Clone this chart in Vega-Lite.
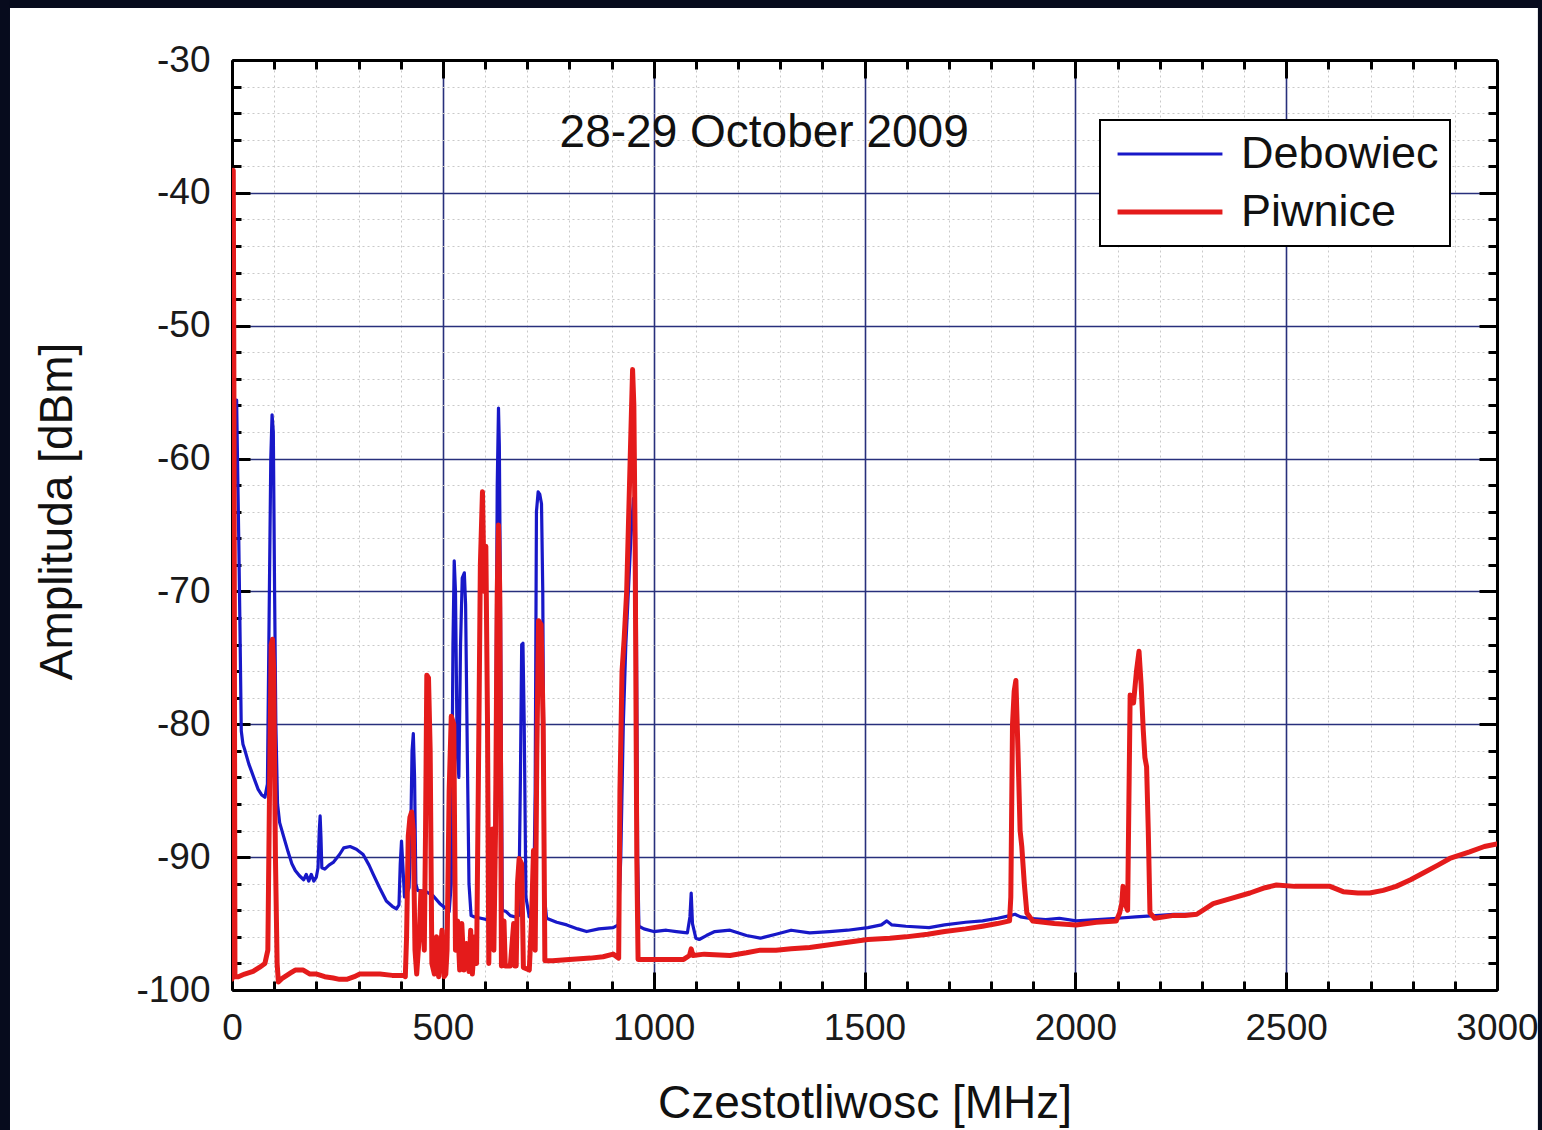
{
  "$schema": "https://vega.github.io/schema/vega-lite/v6.json",
  "width": 1265,
  "height": 930,
  "autosize": {"type": "none"},
  "padding": {"left": 232, "top": 60, "right": 45, "bottom": 140},
  "background": "white",
  "config": {"font": "Liberation Sans", "view": {"stroke": null}},
  "resolve": {"axis": {"x": "independent", "y": "independent"}},
  "layer": [
    {
      "data": {"values": [
        {"freq":0,"amp":-98,"station":"Debowiec"},{"freq":3,"amp":-70,"station":"Debowiec"},{"freq":8,"amp":-56.5,"station":"Debowiec"},{"freq":11,"amp":-55.6,"station":"Debowiec"},{"freq":13,"amp":-60,"station":"Debowiec"},{"freq":16,"amp":-66,"station":"Debowiec"},{"freq":19,"amp":-73,"station":"Debowiec"},{"freq":22,"amp":-80.5,"station":"Debowiec"},{"freq":26,"amp":-81.5,"station":"Debowiec"},{"freq":31,"amp":-82,"station":"Debowiec"},{"freq":40,"amp":-83,"station":"Debowiec"},{"freq":47,"amp":-83.6,"station":"Debowiec"},{"freq":55,"amp":-84.3,"station":"Debowiec"},{"freq":62,"amp":-84.9,"station":"Debowiec"},{"freq":70,"amp":-85.3,"station":"Debowiec"},{"freq":78,"amp":-85.5,"station":"Debowiec"},{"freq":84,"amp":-84.5,"station":"Debowiec"},{"freq":88,"amp":-72,"station":"Debowiec"},{"freq":92,"amp":-60,"station":"Debowiec"},{"freq":95,"amp":-56.7,"station":"Debowiec"},{"freq":98,"amp":-58,"station":"Debowiec"},{"freq":101,"amp":-70,"station":"Debowiec"},{"freq":104,"amp":-80,"station":"Debowiec"},{"freq":108,"amp":-86,"station":"Debowiec"},{"freq":113,"amp":-87.4,"station":"Debowiec"},{"freq":122,"amp":-88.4,"station":"Debowiec"},{"freq":133,"amp":-89.6,"station":"Debowiec"},{"freq":142,"amp":-90.5,"station":"Debowiec"},{"freq":150,"amp":-91,"station":"Debowiec"},{"freq":160,"amp":-91.4,"station":"Debowiec"},{"freq":170,"amp":-91.7,"station":"Debowiec"},{"freq":176,"amp":-91.3,"station":"Debowiec"},{"freq":182,"amp":-91.8,"station":"Debowiec"},{"freq":188,"amp":-91.3,"station":"Debowiec"},{"freq":194,"amp":-91.8,"station":"Debowiec"},{"freq":200,"amp":-91.5,"station":"Debowiec"},{"freq":204,"amp":-90.8,"station":"Debowiec"},{"freq":207,"amp":-88,"station":"Debowiec"},{"freq":209,"amp":-86.9,"station":"Debowiec"},{"freq":211,"amp":-88.5,"station":"Debowiec"},{"freq":213,"amp":-90.8,"station":"Debowiec"},{"freq":220,"amp":-90.9,"station":"Debowiec"},{"freq":230,"amp":-90.6,"station":"Debowiec"},{"freq":240,"amp":-90.4,"station":"Debowiec"},{"freq":255,"amp":-89.8,"station":"Debowiec"},{"freq":265,"amp":-89.3,"station":"Debowiec"},{"freq":280,"amp":-89.2,"station":"Debowiec"},{"freq":295,"amp":-89.4,"station":"Debowiec"},{"freq":311,"amp":-89.8,"station":"Debowiec"},{"freq":325,"amp":-90.6,"station":"Debowiec"},{"freq":335,"amp":-91.3,"station":"Debowiec"},{"freq":350,"amp":-92.3,"station":"Debowiec"},{"freq":366,"amp":-93.3,"station":"Debowiec"},{"freq":380,"amp":-93.7,"station":"Debowiec"},{"freq":390,"amp":-93.9,"station":"Debowiec"},{"freq":396,"amp":-93.6,"station":"Debowiec"},{"freq":399,"amp":-90.5,"station":"Debowiec"},{"freq":402,"amp":-88.8,"station":"Debowiec"},{"freq":405,"amp":-90.5,"station":"Debowiec"},{"freq":409,"amp":-93,"station":"Debowiec"},{"freq":414,"amp":-92.8,"station":"Debowiec"},{"freq":420,"amp":-92.3,"station":"Debowiec"},{"freq":424,"amp":-88,"station":"Debowiec"},{"freq":427,"amp":-82,"station":"Debowiec"},{"freq":430,"amp":-80.7,"station":"Debowiec"},{"freq":433,"amp":-84,"station":"Debowiec"},{"freq":436,"amp":-92,"station":"Debowiec"},{"freq":440,"amp":-92.5,"station":"Debowiec"},{"freq":460,"amp":-92.6,"station":"Debowiec"},{"freq":477,"amp":-92.9,"station":"Debowiec"},{"freq":493,"amp":-93.5,"station":"Debowiec"},{"freq":505,"amp":-93.8,"station":"Debowiec"},{"freq":515,"amp":-94.1,"station":"Debowiec"},{"freq":520,"amp":-92,"station":"Debowiec"},{"freq":524,"amp":-74,"station":"Debowiec"},{"freq":527,"amp":-67.7,"station":"Debowiec"},{"freq":530,"amp":-70,"station":"Debowiec"},{"freq":534,"amp":-82,"station":"Debowiec"},{"freq":538,"amp":-84,"station":"Debowiec"},{"freq":542,"amp":-74,"station":"Debowiec"},{"freq":546,"amp":-69,"station":"Debowiec"},{"freq":551,"amp":-68.6,"station":"Debowiec"},{"freq":554,"amp":-71,"station":"Debowiec"},{"freq":558,"amp":-82,"station":"Debowiec"},{"freq":562,"amp":-92,"station":"Debowiec"},{"freq":567,"amp":-94.4,"station":"Debowiec"},{"freq":575,"amp":-94.5,"station":"Debowiec"},{"freq":590,"amp":-94.6,"station":"Debowiec"},{"freq":605,"amp":-94.7,"station":"Debowiec"},{"freq":620,"amp":-94.6,"station":"Debowiec"},{"freq":625,"amp":-85,"station":"Debowiec"},{"freq":629,"amp":-62,"station":"Debowiec"},{"freq":632,"amp":-56.2,"station":"Debowiec"},{"freq":634,"amp":-59,"station":"Debowiec"},{"freq":637,"amp":-72,"station":"Debowiec"},{"freq":641,"amp":-94,"station":"Debowiec"},{"freq":650,"amp":-94.1,"station":"Debowiec"},{"freq":660,"amp":-94.4,"station":"Debowiec"},{"freq":672,"amp":-94.5,"station":"Debowiec"},{"freq":680,"amp":-94.4,"station":"Debowiec"},{"freq":684,"amp":-84,"station":"Debowiec"},{"freq":687,"amp":-74,"station":"Debowiec"},{"freq":690,"amp":-73.9,"station":"Debowiec"},{"freq":693,"amp":-80,"station":"Debowiec"},{"freq":697,"amp":-93,"station":"Debowiec"},{"freq":705,"amp":-94.5,"station":"Debowiec"},{"freq":715,"amp":-94.5,"station":"Debowiec"},{"freq":719,"amp":-85,"station":"Debowiec"},{"freq":722,"amp":-64,"station":"Debowiec"},{"freq":726,"amp":-62.5,"station":"Debowiec"},{"freq":730,"amp":-62.7,"station":"Debowiec"},{"freq":734,"amp":-63.4,"station":"Debowiec"},{"freq":737,"amp":-70,"station":"Debowiec"},{"freq":741,"amp":-93,"station":"Debowiec"},{"freq":746,"amp":-94.6,"station":"Debowiec"},{"freq":770,"amp":-94.9,"station":"Debowiec"},{"freq":794,"amp":-95.1,"station":"Debowiec"},{"freq":820,"amp":-95.4,"station":"Debowiec"},{"freq":841,"amp":-95.6,"station":"Debowiec"},{"freq":870,"amp":-95.4,"station":"Debowiec"},{"freq":904,"amp":-95.3,"station":"Debowiec"},{"freq":916,"amp":-95.1,"station":"Debowiec"},{"freq":922,"amp":-90,"station":"Debowiec"},{"freq":928,"amp":-80,"station":"Debowiec"},{"freq":934,"amp":-74,"station":"Debowiec"},{"freq":940,"amp":-70,"station":"Debowiec"},{"freq":946,"amp":-66,"station":"Debowiec"},{"freq":952,"amp":-63,"station":"Debowiec"},{"freq":956,"amp":-63.5,"station":"Debowiec"},{"freq":959,"amp":-72,"station":"Debowiec"},{"freq":962,"amp":-90,"station":"Debowiec"},{"freq":965,"amp":-95.2,"station":"Debowiec"},{"freq":977,"amp":-95.4,"station":"Debowiec"},{"freq":1000,"amp":-95.6,"station":"Debowiec"},{"freq":1030,"amp":-95.5,"station":"Debowiec"},{"freq":1054,"amp":-95.6,"station":"Debowiec"},{"freq":1080,"amp":-95.7,"station":"Debowiec"},{"freq":1086,"amp":-94.5,"station":"Debowiec"},{"freq":1089,"amp":-92.7,"station":"Debowiec"},{"freq":1092,"amp":-95,"station":"Debowiec"},{"freq":1100,"amp":-96.1,"station":"Debowiec"},{"freq":1108,"amp":-96.2,"station":"Debowiec"},{"freq":1125,"amp":-95.9,"station":"Debowiec"},{"freq":1145,"amp":-95.6,"station":"Debowiec"},{"freq":1181,"amp":-95.5,"station":"Debowiec"},{"freq":1220,"amp":-95.9,"station":"Debowiec"},{"freq":1253,"amp":-96.1,"station":"Debowiec"},{"freq":1290,"amp":-95.8,"station":"Debowiec"},{"freq":1326,"amp":-95.5,"station":"Debowiec"},{"freq":1370,"amp":-95.7,"station":"Debowiec"},{"freq":1417,"amp":-95.6,"station":"Debowiec"},{"freq":1460,"amp":-95.5,"station":"Debowiec"},{"freq":1508,"amp":-95.3,"station":"Debowiec"},{"freq":1540,"amp":-95.1,"station":"Debowiec"},{"freq":1553,"amp":-94.8,"station":"Debowiec"},{"freq":1565,"amp":-95.1,"station":"Debowiec"},{"freq":1598,"amp":-95.2,"station":"Debowiec"},{"freq":1653,"amp":-95.3,"station":"Debowiec"},{"freq":1690,"amp":-95.1,"station":"Debowiec"},{"freq":1740,"amp":-94.9,"station":"Debowiec"},{"freq":1780,"amp":-94.8,"station":"Debowiec"},{"freq":1816,"amp":-94.6,"station":"Debowiec"},{"freq":1845,"amp":-94.4,"station":"Debowiec"},{"freq":1857,"amp":-94.3,"station":"Debowiec"},{"freq":1870,"amp":-94.5,"station":"Debowiec"},{"freq":1889,"amp":-94.6,"station":"Debowiec"},{"freq":1930,"amp":-94.7,"station":"Debowiec"},{"freq":1962,"amp":-94.6,"station":"Debowiec"},{"freq":2002,"amp":-94.8,"station":"Debowiec"},{"freq":2052,"amp":-94.7,"station":"Debowiec"},{"freq":2100,"amp":-94.6,"station":"Debowiec"},{"freq":2143,"amp":-94.5,"station":"Debowiec"},{"freq":2190,"amp":-94.4,"station":"Debowiec"},{"freq":2234,"amp":-94.3,"station":"Debowiec"},{"freq":2288,"amp":-94.3,"station":"Debowiec"},{"freq":2327,"amp":-93.5,"station":"Debowiec"},{"freq":2370,"amp":-93.1,"station":"Debowiec"},{"freq":2414,"amp":-92.7,"station":"Debowiec"},{"freq":2450,"amp":-92.3,"station":"Debowiec"},{"freq":2477,"amp":-92.1,"station":"Debowiec"},{"freq":2520,"amp":-92.2,"station":"Debowiec"},{"freq":2556,"amp":-92.2,"station":"Debowiec"},{"freq":2604,"amp":-92.2,"station":"Debowiec"},{"freq":2635,"amp":-92.6,"station":"Debowiec"},{"freq":2670,"amp":-92.7,"station":"Debowiec"},{"freq":2698,"amp":-92.7,"station":"Debowiec"},{"freq":2730,"amp":-92.5,"station":"Debowiec"},{"freq":2761,"amp":-92.2,"station":"Debowiec"},{"freq":2795,"amp":-91.7,"station":"Debowiec"},{"freq":2825,"amp":-91.2,"station":"Debowiec"},{"freq":2860,"amp":-90.6,"station":"Debowiec"},{"freq":2888,"amp":-90.1,"station":"Debowiec"},{"freq":2935,"amp":-89.6,"station":"Debowiec"},{"freq":2970,"amp":-89.2,"station":"Debowiec"},{"freq":3000,"amp":-89,"station":"Debowiec"},
        {"freq":0,"amp":-99.2,"station":"Piwnice"},{"freq":1,"amp":-70,"station":"Piwnice"},{"freq":3,"amp":-38.3,"station":"Piwnice"},{"freq":5,"amp":-60,"station":"Piwnice"},{"freq":7,"amp":-99,"station":"Piwnice"},{"freq":15,"amp":-99,"station":"Piwnice"},{"freq":30,"amp":-98.8,"station":"Piwnice"},{"freq":50,"amp":-98.6,"station":"Piwnice"},{"freq":65,"amp":-98.3,"station":"Piwnice"},{"freq":78,"amp":-98,"station":"Piwnice"},{"freq":85,"amp":-97,"station":"Piwnice"},{"freq":89,"amp":-85,"station":"Piwnice"},{"freq":93,"amp":-74,"station":"Piwnice"},{"freq":96,"amp":-73.6,"station":"Piwnice"},{"freq":99,"amp":-76,"station":"Piwnice"},{"freq":103,"amp":-90,"station":"Piwnice"},{"freq":107,"amp":-98,"station":"Piwnice"},{"freq":110,"amp":-99.4,"station":"Piwnice"},{"freq":120,"amp":-99.1,"station":"Piwnice"},{"freq":140,"amp":-98.7,"station":"Piwnice"},{"freq":150,"amp":-98.5,"station":"Piwnice"},{"freq":169,"amp":-98.5,"station":"Piwnice"},{"freq":185,"amp":-98.8,"station":"Piwnice"},{"freq":201,"amp":-98.8,"station":"Piwnice"},{"freq":220,"amp":-99,"station":"Piwnice"},{"freq":240,"amp":-99.1,"station":"Piwnice"},{"freq":255,"amp":-99.2,"station":"Piwnice"},{"freq":272,"amp":-99.2,"station":"Piwnice"},{"freq":290,"amp":-99,"station":"Piwnice"},{"freq":303,"amp":-98.8,"station":"Piwnice"},{"freq":330,"amp":-98.8,"station":"Piwnice"},{"freq":351,"amp":-98.8,"station":"Piwnice"},{"freq":380,"amp":-98.9,"station":"Piwnice"},{"freq":406,"amp":-98.9,"station":"Piwnice"},{"freq":411,"amp":-99,"station":"Piwnice"},{"freq":414,"amp":-96,"station":"Piwnice"},{"freq":418,"amp":-88.4,"station":"Piwnice"},{"freq":422,"amp":-87,"station":"Piwnice"},{"freq":426,"amp":-86.6,"station":"Piwnice"},{"freq":430,"amp":-88,"station":"Piwnice"},{"freq":434,"amp":-97,"station":"Piwnice"},{"freq":438,"amp":-98.8,"station":"Piwnice"},{"freq":444,"amp":-96,"station":"Piwnice"},{"freq":448,"amp":-92.6,"station":"Piwnice"},{"freq":452,"amp":-94,"station":"Piwnice"},{"freq":456,"amp":-97,"station":"Piwnice"},{"freq":459,"amp":-88,"station":"Piwnice"},{"freq":462,"amp":-76.3,"station":"Piwnice"},{"freq":466,"amp":-76.5,"station":"Piwnice"},{"freq":470,"amp":-82,"station":"Piwnice"},{"freq":474,"amp":-98,"station":"Piwnice"},{"freq":480,"amp":-98.8,"station":"Piwnice"},{"freq":485,"amp":-96,"station":"Piwnice"},{"freq":490,"amp":-99,"station":"Piwnice"},{"freq":498,"amp":-95.5,"station":"Piwnice"},{"freq":503,"amp":-99,"station":"Piwnice"},{"freq":507,"amp":-98.8,"station":"Piwnice"},{"freq":510,"amp":-97,"station":"Piwnice"},{"freq":515,"amp":-85,"station":"Piwnice"},{"freq":520,"amp":-79.4,"station":"Piwnice"},{"freq":526,"amp":-80,"station":"Piwnice"},{"freq":530,"amp":-97,"station":"Piwnice"},{"freq":535,"amp":-94.8,"station":"Piwnice"},{"freq":540,"amp":-98.5,"station":"Piwnice"},{"freq":545,"amp":-95,"station":"Piwnice"},{"freq":550,"amp":-98.5,"station":"Piwnice"},{"freq":556,"amp":-96.5,"station":"Piwnice"},{"freq":562,"amp":-98.6,"station":"Piwnice"},{"freq":566,"amp":-95.5,"station":"Piwnice"},{"freq":570,"amp":-98.8,"station":"Piwnice"},{"freq":576,"amp":-96,"station":"Piwnice"},{"freq":580,"amp":-98,"station":"Piwnice"},{"freq":585,"amp":-82,"station":"Piwnice"},{"freq":589,"amp":-68,"station":"Piwnice"},{"freq":594,"amp":-62.5,"station":"Piwnice"},{"freq":598,"amp":-70,"station":"Piwnice"},{"freq":602,"amp":-66.6,"station":"Piwnice"},{"freq":606,"amp":-80,"station":"Piwnice"},{"freq":609,"amp":-98,"station":"Piwnice"},{"freq":613,"amp":-88,"station":"Piwnice"},{"freq":617,"amp":-87.9,"station":"Piwnice"},{"freq":621,"amp":-97,"station":"Piwnice"},{"freq":625,"amp":-88,"station":"Piwnice"},{"freq":629,"amp":-70,"station":"Piwnice"},{"freq":632,"amp":-65,"station":"Piwnice"},{"freq":635,"amp":-70,"station":"Piwnice"},{"freq":639,"amp":-98.2,"station":"Piwnice"},{"freq":645,"amp":-94.8,"station":"Piwnice"},{"freq":648,"amp":-98.2,"station":"Piwnice"},{"freq":660,"amp":-98.2,"station":"Piwnice"},{"freq":668,"amp":-95,"station":"Piwnice"},{"freq":671,"amp":-98.2,"station":"Piwnice"},{"freq":674,"amp":-98.2,"station":"Piwnice"},{"freq":677,"amp":-92,"station":"Piwnice"},{"freq":681,"amp":-90.1,"station":"Piwnice"},{"freq":687,"amp":-90.5,"station":"Piwnice"},{"freq":691,"amp":-98.3,"station":"Piwnice"},{"freq":705,"amp":-98.5,"station":"Piwnice"},{"freq":710,"amp":-95,"station":"Piwnice"},{"freq":715,"amp":-89.5,"station":"Piwnice"},{"freq":719,"amp":-97,"station":"Piwnice"},{"freq":723,"amp":-82,"station":"Piwnice"},{"freq":727,"amp":-72.2,"station":"Piwnice"},{"freq":733,"amp":-72.5,"station":"Piwnice"},{"freq":738,"amp":-80,"station":"Piwnice"},{"freq":742,"amp":-97.8,"station":"Piwnice"},{"freq":760,"amp":-97.8,"station":"Piwnice"},{"freq":800,"amp":-97.7,"station":"Piwnice"},{"freq":850,"amp":-97.6,"station":"Piwnice"},{"freq":880,"amp":-97.5,"station":"Piwnice"},{"freq":904,"amp":-97.3,"station":"Piwnice"},{"freq":917,"amp":-97.6,"station":"Piwnice"},{"freq":920,"amp":-85,"station":"Piwnice"},{"freq":925,"amp":-76,"station":"Piwnice"},{"freq":930,"amp":-73.6,"station":"Piwnice"},{"freq":936,"amp":-70,"station":"Piwnice"},{"freq":941,"amp":-64,"station":"Piwnice"},{"freq":946,"amp":-58,"station":"Piwnice"},{"freq":950,"amp":-53.3,"station":"Piwnice"},{"freq":953,"amp":-56,"station":"Piwnice"},{"freq":956,"amp":-66,"station":"Piwnice"},{"freq":960,"amp":-90,"station":"Piwnice"},{"freq":963,"amp":-97.7,"station":"Piwnice"},{"freq":1000,"amp":-97.7,"station":"Piwnice"},{"freq":1040,"amp":-97.7,"station":"Piwnice"},{"freq":1071,"amp":-97.7,"station":"Piwnice"},{"freq":1085,"amp":-97.4,"station":"Piwnice"},{"freq":1089,"amp":-96.9,"station":"Piwnice"},{"freq":1093,"amp":-97.4,"station":"Piwnice"},{"freq":1120,"amp":-97.3,"station":"Piwnice"},{"freq":1181,"amp":-97.4,"station":"Piwnice"},{"freq":1220,"amp":-97.2,"station":"Piwnice"},{"freq":1253,"amp":-97,"station":"Piwnice"},{"freq":1290,"amp":-97,"station":"Piwnice"},{"freq":1326,"amp":-96.9,"station":"Piwnice"},{"freq":1370,"amp":-96.8,"station":"Piwnice"},{"freq":1417,"amp":-96.6,"station":"Piwnice"},{"freq":1460,"amp":-96.4,"station":"Piwnice"},{"freq":1508,"amp":-96.2,"station":"Piwnice"},{"freq":1560,"amp":-96.1,"station":"Piwnice"},{"freq":1598,"amp":-96,"station":"Piwnice"},{"freq":1650,"amp":-95.8,"station":"Piwnice"},{"freq":1690,"amp":-95.6,"station":"Piwnice"},{"freq":1740,"amp":-95.4,"station":"Piwnice"},{"freq":1780,"amp":-95.2,"station":"Piwnice"},{"freq":1815,"amp":-95,"station":"Piwnice"},{"freq":1844,"amp":-94.8,"station":"Piwnice"},{"freq":1847,"amp":-93,"station":"Piwnice"},{"freq":1851,"amp":-80,"station":"Piwnice"},{"freq":1855,"amp":-77.5,"station":"Piwnice"},{"freq":1859,"amp":-76.7,"station":"Piwnice"},{"freq":1864,"amp":-82,"station":"Piwnice"},{"freq":1869,"amp":-88,"station":"Piwnice"},{"freq":1873,"amp":-89.2,"station":"Piwnice"},{"freq":1879,"amp":-92,"station":"Piwnice"},{"freq":1885,"amp":-94.2,"station":"Piwnice"},{"freq":1899,"amp":-94.8,"station":"Piwnice"},{"freq":1950,"amp":-95,"station":"Piwnice"},{"freq":2002,"amp":-95.1,"station":"Piwnice"},{"freq":2050,"amp":-94.9,"station":"Piwnice"},{"freq":2097,"amp":-94.8,"station":"Piwnice"},{"freq":2105,"amp":-94.2,"station":"Piwnice"},{"freq":2110,"amp":-93.5,"station":"Piwnice"},{"freq":2113,"amp":-92.2,"station":"Piwnice"},{"freq":2118,"amp":-93.5,"station":"Piwnice"},{"freq":2124,"amp":-94,"station":"Piwnice"},{"freq":2130,"amp":-77.8,"station":"Piwnice"},{"freq":2138,"amp":-78.4,"station":"Piwnice"},{"freq":2145,"amp":-76,"station":"Piwnice"},{"freq":2151,"amp":-74.5,"station":"Piwnice"},{"freq":2156,"amp":-77,"station":"Piwnice"},{"freq":2161,"amp":-80.4,"station":"Piwnice"},{"freq":2165,"amp":-82.5,"station":"Piwnice"},{"freq":2169,"amp":-83.2,"station":"Piwnice"},{"freq":2173,"amp":-88,"station":"Piwnice"},{"freq":2177,"amp":-94.2,"station":"Piwnice"},{"freq":2188,"amp":-94.6,"station":"Piwnice"},{"freq":2230,"amp":-94.4,"station":"Piwnice"},{"freq":2260,"amp":-94.4,"station":"Piwnice"},{"freq":2288,"amp":-94.3,"station":"Piwnice"},{"freq":2327,"amp":-93.5,"station":"Piwnice"},{"freq":2370,"amp":-93.1,"station":"Piwnice"},{"freq":2414,"amp":-92.7,"station":"Piwnice"},{"freq":2450,"amp":-92.3,"station":"Piwnice"},{"freq":2477,"amp":-92.1,"station":"Piwnice"},{"freq":2520,"amp":-92.2,"station":"Piwnice"},{"freq":2556,"amp":-92.2,"station":"Piwnice"},{"freq":2604,"amp":-92.2,"station":"Piwnice"},{"freq":2635,"amp":-92.6,"station":"Piwnice"},{"freq":2670,"amp":-92.7,"station":"Piwnice"},{"freq":2698,"amp":-92.7,"station":"Piwnice"},{"freq":2730,"amp":-92.5,"station":"Piwnice"},{"freq":2761,"amp":-92.2,"station":"Piwnice"},{"freq":2795,"amp":-91.7,"station":"Piwnice"},{"freq":2825,"amp":-91.2,"station":"Piwnice"},{"freq":2860,"amp":-90.6,"station":"Piwnice"},{"freq":2888,"amp":-90.1,"station":"Piwnice"},{"freq":2935,"amp":-89.6,"station":"Piwnice"},{"freq":2970,"amp":-89.2,"station":"Piwnice"},{"freq":3000,"amp":-89,"station":"Piwnice"}
      ]},
      "mark": {"type": "line", "strokeJoin": "round", "strokeCap": "round", "clip": true},
      "encoding": {
        "x": {
          "field": "freq", "type": "quantitative",
          "scale": {"domain": [0, 3000], "nice": false, "zero": false},
          "axis": {
            "orient": "bottom",
            "values": [0,100,200,300,400,500,600,700,800,900,1000,1100,1200,1300,1400,1500,1600,1700,1800,1900,2000,2100,2200,2300,2400,2500,2600,2700,2800,2900,3000],
            "title": "Czestotliwosc [MHz]",
            "titleFont": "Liberation Sans", "titleFontSize": 46, "titleFontWeight": "normal", "titleColor": "#111111",
            "titleBaseline": "alphabetic", "titleY": 127,
            "labelExpr": "datum.value % 500 === 0 ? '' + datum.value : ''",
            "labelFont": "Liberation Sans", "labelFontSize": 37, "labelColor": "#1a1a1a",
            "labelPadding": 38, "labelFlush": false, "labelOverlap": false,
            "ticks": true,
            "tickSize": {"condition": {"test": "datum.value % 500 === 0", "value": -18}, "value": -9},
            "tickColor": "#000000", "tickWidth": 3,
            "domain": true, "domainColor": "#000000", "domainWidth": 3,
            "grid": true,
            "gridColor": {"condition": {"test": "datum.value % 500 === 0", "value": "#28307c"}, "value": "#c9c9c9"},
            "gridDash": {"condition": {"test": "datum.value % 500 === 0", "value": []}, "value": [2, 3]},
            "gridWidth": {"condition": {"test": "datum.value % 500 === 0", "value": 1.6}, "value": 1}
          }
        },
        "y": {
          "field": "amp", "type": "quantitative",
          "scale": {"domain": [-100, -30], "nice": false, "zero": false},
          "axis": {
            "orient": "left",
            "values": [-100,-98,-96,-94,-92,-90,-88,-86,-84,-82,-80,-78,-76,-74,-72,-70,-68,-66,-64,-62,-60,-58,-56,-54,-52,-50,-48,-46,-44,-42,-40,-38,-36,-34,-32,-30],
            "title": "Amplituda [dBm]",
            "titleFont": "Liberation Sans", "titleFontSize": 46, "titleFontWeight": "normal", "titleColor": "#111111",
            "titleBaseline": "alphabetic", "titleX": -161, "titleY": 451, "titleAngle": 270,
            "labelExpr": "datum.value % 10 === 0 ? '' + datum.value : ''",
            "labelFont": "Liberation Sans", "labelFontSize": 37, "labelColor": "#1a1a1a",
            "labelPadding": 40, "labelFlush": false, "labelOverlap": false,
            "ticks": true,
            "tickSize": {"condition": {"test": "datum.value % 10 === 0", "value": -18}, "value": -9},
            "tickColor": "#000000", "tickWidth": 3,
            "domain": true, "domainColor": "#000000", "domainWidth": 3,
            "grid": true,
            "gridColor": {"condition": {"test": "datum.value % 10 === 0", "value": "#28307c"}, "value": "#c9c9c9"},
            "gridDash": {"condition": {"test": "datum.value % 10 === 0", "value": []}, "value": [2, 3]},
            "gridWidth": {"condition": {"test": "datum.value % 10 === 0", "value": 1.6}, "value": 1}
          }
        },
        "color": {
          "field": "station", "type": "nominal",
          "scale": {"domain": ["Debowiec", "Piwnice"], "range": ["#1818c8", "#e41b1b"]},
          "legend": {
            "orient": "none", "legendX": 868, "legendY": 60, "title": null,
            "labelFont": "Liberation Sans", "labelFontSize": 45, "labelColor": "#111111", "labelLimit": 500,
            "symbolType": "stroke", "symbolSize": 11000, "clipHeight": 46,
            "strokeColor": "#000000", "fillColor": "#ffffff",
            "padding": 11, "rowPadding": 12, "labelOffset": 16, "symbolOffset": 4,
            "encode": {"legend": {"update": {"strokeWidth": {"value": 2}}}}
          }
        },
        "strokeWidth": {
          "field": "station", "type": "nominal",
          "scale": {"domain": ["Debowiec", "Piwnice"], "range": [3.2, 5]},
          "legend": {
            "orient": "none", "legendX": 868, "legendY": 60, "title": null,
            "labelFont": "Liberation Sans", "labelFontSize": 45, "labelColor": "#111111", "labelLimit": 500,
            "symbolType": "stroke", "symbolSize": 11000, "clipHeight": 46,
            "strokeColor": "#000000", "fillColor": "#ffffff",
            "padding": 11, "rowPadding": 12, "labelOffset": 16, "symbolOffset": 4,
            "encode": {"legend": {"update": {"strokeWidth": {"value": 2}}}}
          }
        }
      }
    },
    {
      "data": {"values": [{}]},
      "mark": {"type": "text", "font": "Liberation Sans", "fontSize": 46, "color": "#111111", "align": "center", "baseline": "middle", "text": "28-29 October 2009"},
      "encoding": {
        "x": {
          "datum": 1262, "type": "quantitative",
          "axis": {
            "orient": "top", "title": null, "labels": false, "grid": false,
            "values": [0,100,200,300,400,500,600,700,800,900,1000,1100,1200,1300,1400,1500,1600,1700,1800,1900,2000,2100,2200,2300,2400,2500,2600,2700,2800,2900,3000],
            "domain": true, "domainColor": "#000000", "domainWidth": 3,
            "ticks": true,
            "tickSize": {"condition": {"test": "datum.value % 500 === 0", "value": -18}, "value": -9},
            "tickColor": "#000000", "tickWidth": 3
          }
        },
        "y": {
          "datum": -35.5, "type": "quantitative",
          "axis": {
            "orient": "right", "title": null, "labels": false, "grid": false,
            "values": [-100,-98,-96,-94,-92,-90,-88,-86,-84,-82,-80,-78,-76,-74,-72,-70,-68,-66,-64,-62,-60,-58,-56,-54,-52,-50,-48,-46,-44,-42,-40,-38,-36,-34,-32,-30],
            "domain": true, "domainColor": "#000000", "domainWidth": 3,
            "ticks": true,
            "tickSize": {"condition": {"test": "datum.value % 10 === 0", "value": -18}, "value": -9},
            "tickColor": "#000000", "tickWidth": 3
          }
        }
      }
    },
    {
      "data": {"values": [{}]},
      "mark": {"type": "rect", "color": "#070b1d"},
      "encoding": {
        "x": {"datum": -560, "type": "quantitative", "axis": null},
        "x2": {"datum": 3120},
        "y": {"datum": -25.3, "type": "quantitative", "axis": null},
        "y2": {"datum": -26.09}
      }
    },
    {
      "data": {"values": [{}]},
      "mark": {"type": "rect", "color": "#070b1d"},
      "encoding": {
        "x": {"datum": -560, "type": "quantitative", "axis": null},
        "x2": {"datum": -526.5},
        "y": {"datum": -25.3, "type": "quantitative", "axis": null},
        "y2": {"datum": -112}
      }
    },
    {
      "data": {"values": [{}]},
      "mark": {"type": "rect", "color": "#070b1d"},
      "encoding": {
        "x": {"datum": 3097, "type": "quantitative", "axis": null},
        "x2": {"datum": 3120},
        "y": {"datum": -25.3, "type": "quantitative", "axis": null},
        "y2": {"datum": -112}
      }
    }
  ]
}
